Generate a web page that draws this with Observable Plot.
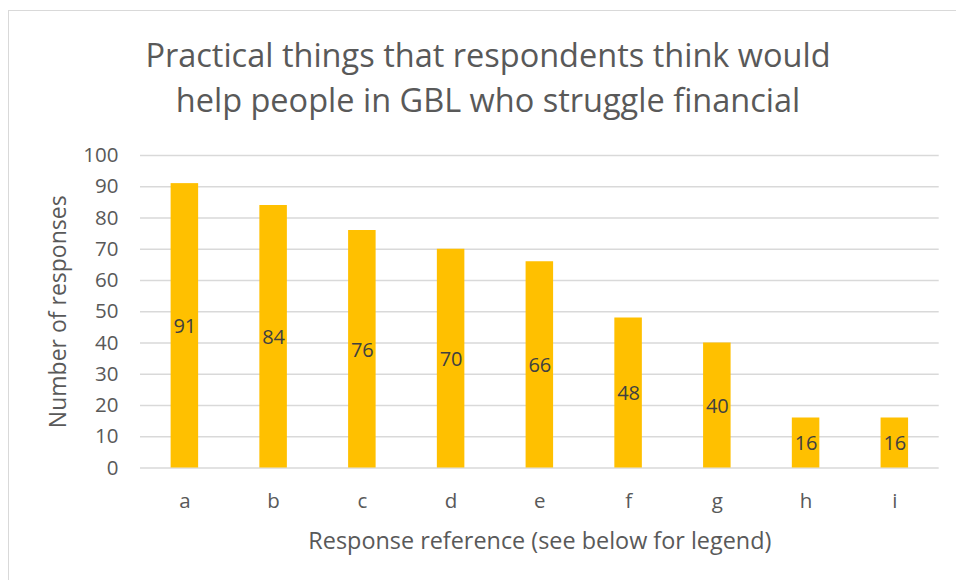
<!DOCTYPE html>
<html><head><meta charset="utf-8">
<script src="https://cdn.jsdelivr.net/npm/d3@7"></script>
<script src="https://cdn.jsdelivr.net/npm/@observablehq/plot@0.6"></script>
<style>
body{margin:0;background:#fff;}
#wrap{position:relative;width:956px;height:580px;overflow:hidden;font-family:"Open Sans","Noto Sans",sans-serif;}
#border{position:absolute;left:8px;top:10px;width:1000px;height:700px;border:1.5px solid #d9d9d9;}
#title{position:absolute;left:0;top:32px;width:976px;text-align:center;color:#595959;font-size:32.5px;line-height:45px;}
#chart{position:absolute;left:0;top:140px;}
</style></head>
<body>
<div id="wrap">
<div id="border"></div>
<div id="title">Practical things that respondents think would<br>help people in GBL who struggle financial</div>
<div id="chart"></div>
</div>
<script>
const categories = ["a","b","c","d","e","f","g","h","i"];
const values = [91,84,76,70,66,48,40,16,16];
const yTicks = [0,10,20,30,40,50,60,70,80,90,100];
const yTitle = "Number of responses";
const xTitle = "Response reference (see below for legend)";
const data = categories.map((c,i)=>({ref:c, n:values[i]}));
const txt = "#595959";
const plot = Plot.plot({
  width:956, height:440,
  marginTop:15, marginBottom:112.5, marginLeft:140, marginRight:17.3,
  style:{fontFamily:"'Open Sans', 'Noto Sans', sans-serif", fontSize:"20px", color:txt, background:"transparent", overflow:"visible"},
  x:{domain:categories, paddingInner:0.69, paddingOuter:0.345, align:0.5, round:false},
  y:{domain:[0,100]},
  marks:[
    Plot.gridY(yTicks,{stroke:"#d9d9d9", strokeOpacity:1, strokeWidth:1.5}),
    Plot.barY(data,{x:"ref", y:"n", fill:"#FFC000"}),
    Plot.text(data,{x:"ref", y:d=>d.n/2, text:d=>String(d.n), fill:"#404040", fontSize:20, dy:1}),
    Plot.axisY({ticks:yTicks, tickSize:0, tickPadding:22, fontSize:20.5, fill:txt, label:null}),
    Plot.axisX({tickSize:0, tickPadding:25, fontSize:20.5, fill:txt, label:null}),
    Plot.text([yTitle],{frameAnchor:"left", text:d=>d, rotate:-90, dx:-82, fontSize:23, fill:txt, lineAnchor:"middle", textAnchor:"middle"}),
    Plot.text([xTitle],{frameAnchor:"bottom", text:d=>d, dy:73.5, fontSize:23.4, fill:txt, lineAnchor:"middle"})
  ]
});
document.getElementById("chart").appendChild(plot);
</script>
</body></html>
